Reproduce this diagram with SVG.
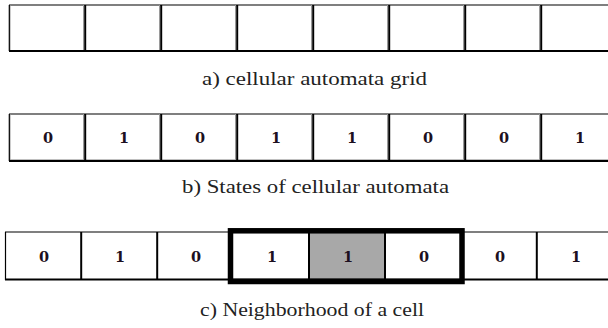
<svg xmlns="http://www.w3.org/2000/svg" width="608" height="328" viewBox="0 0 608 328">
  <style>
    .cell { fill: #ffffff; stroke: none; }
    .hot { fill: #a8a8a8; }
    .edge { stroke: #000000; stroke-width: 1.2; }
    .base { stroke: #000000; stroke-width: 2.2; }
    .div { stroke: #000000; stroke-width: 2; }
    .shade { stroke: #9a9a9a; stroke-width: 1; }
    .num { fill: #1c1020; text-anchor: middle; }
    .cap { fill: #222222; }
    .frame { fill: none; stroke: #000000; stroke-width: 5.5; }
  </style>

  <!-- Row a: empty cellular automata grid -->
  <g id="row-a">
    <g id="a-cell-0"><rect class="cell" x="9" y="5" width="76" height="46"/></g>
    <g id="a-cell-1"><rect class="cell" x="85" y="5" width="76" height="46"/></g>
    <g id="a-cell-2"><rect class="cell" x="161" y="5" width="76" height="46"/></g>
    <g id="a-cell-3"><rect class="cell" x="237" y="5" width="76" height="46"/></g>
    <g id="a-cell-4"><rect class="cell" x="313" y="5" width="76" height="46"/></g>
    <g id="a-cell-5"><rect class="cell" x="389" y="5" width="76" height="46"/></g>
    <g id="a-cell-6"><rect class="cell" x="465" y="5" width="76" height="46"/></g>
    <g id="a-cell-7"><rect class="cell" x="541" y="5" width="76" height="46"/></g>
    <g id="a-lines">
      <line class="edge" x1="9" y1="5" x2="608" y2="5"/>
      <line class="base" x1="9" y1="51" x2="608" y2="51"/>
      <line class="shade" x1="10" y1="5" x2="10" y2="50"/>
      <line class="edge" x1="9.3" y1="5" x2="9.3" y2="51"/>
      <line class="shade" x1="83.5" y1="5" x2="83.5" y2="50"/>
      <line class="div" x1="85.2" y1="5" x2="85.2" y2="51"/>
      <line class="shade" x1="159.5" y1="5" x2="159.5" y2="50"/>
      <line class="div" x1="161.2" y1="5" x2="161.2" y2="51"/>
      <line class="shade" x1="235.5" y1="5" x2="235.5" y2="50"/>
      <line class="div" x1="237.2" y1="5" x2="237.2" y2="51"/>
      <line class="shade" x1="311.5" y1="5" x2="311.5" y2="50"/>
      <line class="div" x1="313.2" y1="5" x2="313.2" y2="51"/>
      <line class="shade" x1="387.5" y1="5" x2="387.5" y2="50"/>
      <line class="div" x1="389.2" y1="5" x2="389.2" y2="51"/>
      <line class="shade" x1="463.5" y1="5" x2="463.5" y2="50"/>
      <line class="div" x1="465.2" y1="5" x2="465.2" y2="51"/>
      <line class="shade" x1="539.5" y1="5" x2="539.5" y2="50"/>
      <line class="div" x1="541.2" y1="5" x2="541.2" y2="51"/>
    </g>
  </g>

  <!-- Row b: states of the cellular automata -->
  <g id="row-b" font-family="DejaVu Serif" font-weight="bold" font-size="14.5">
    <g id="b-cell-0"><rect class="cell" x="9" y="114" width="76" height="47"/><text class="num" x="48" y="143">0</text></g>
    <g id="b-cell-1"><rect class="cell" x="85" y="114" width="76" height="47"/><text class="num" x="124" y="143">1</text></g>
    <g id="b-cell-2"><rect class="cell" x="161" y="114" width="76" height="47"/><text class="num" x="200" y="143">0</text></g>
    <g id="b-cell-3"><rect class="cell" x="237" y="114" width="76" height="47"/><text class="num" x="276" y="143">1</text></g>
    <g id="b-cell-4"><rect class="cell" x="313" y="114" width="76" height="47"/><text class="num" x="352" y="143">1</text></g>
    <g id="b-cell-5"><rect class="cell" x="389" y="114" width="76" height="47"/><text class="num" x="428" y="143">0</text></g>
    <g id="b-cell-6"><rect class="cell" x="465" y="114" width="76" height="47"/><text class="num" x="504" y="143">0</text></g>
    <g id="b-cell-7"><rect class="cell" x="541" y="114" width="76" height="47"/><text class="num" x="580" y="143">1</text></g>
    <g id="b-lines">
      <line class="edge" x1="9" y1="114" x2="608" y2="114"/>
      <line class="base" x1="9" y1="160.8" x2="608" y2="160.8"/>
      <line class="shade" x1="10" y1="114" x2="10" y2="160"/>
      <line class="edge" x1="9.3" y1="114" x2="9.3" y2="161"/>
      <line class="shade" x1="83.5" y1="114" x2="83.5" y2="160"/>
      <line class="div" x1="85.2" y1="114" x2="85.2" y2="161"/>
      <line class="shade" x1="159.5" y1="114" x2="159.5" y2="160"/>
      <line class="div" x1="161.2" y1="114" x2="161.2" y2="161"/>
      <line class="shade" x1="235.5" y1="114" x2="235.5" y2="160"/>
      <line class="div" x1="237.2" y1="114" x2="237.2" y2="161"/>
      <line class="shade" x1="311.5" y1="114" x2="311.5" y2="160"/>
      <line class="div" x1="313.2" y1="114" x2="313.2" y2="161"/>
      <line class="shade" x1="387.5" y1="114" x2="387.5" y2="160"/>
      <line class="div" x1="389.2" y1="114" x2="389.2" y2="161"/>
      <line class="shade" x1="463.5" y1="114" x2="463.5" y2="160"/>
      <line class="div" x1="465.2" y1="114" x2="465.2" y2="161"/>
      <line class="shade" x1="539.5" y1="114" x2="539.5" y2="160"/>
      <line class="div" x1="541.2" y1="114" x2="541.2" y2="161"/>
    </g>
  </g>

  <!-- Row c: neighbourhood of the highlighted cell -->
  <g id="row-c" font-family="DejaVu Serif" font-weight="bold" font-size="14.5">
    <g id="c-cell-0"><rect class="cell" x="5" y="232" width="76" height="48"/><text class="num" x="44" y="261.5">0</text></g>
    <g id="c-cell-1"><rect class="cell" x="81" y="232" width="76" height="48"/><text class="num" x="120" y="261.5">1</text></g>
    <g id="c-cell-2"><rect class="cell" x="157" y="232" width="76" height="48"/><text class="num" x="196" y="261.5">0</text></g>
    <g id="c-cell-3"><rect class="cell" x="233" y="232" width="76" height="48"/><text class="num" x="272" y="261.5">1</text></g>
    <g id="c-cell-4"><rect class="cell hot" x="309" y="232" width="76" height="48"/><text class="num" x="348" y="261.5">1</text></g>
    <g id="c-cell-5"><rect class="cell" x="385" y="232" width="76" height="48"/><text class="num" x="424" y="261.5">0</text></g>
    <g id="c-cell-6"><rect class="cell" x="461" y="232" width="76" height="48"/><text class="num" x="500" y="261.5">0</text></g>
    <g id="c-cell-7"><rect class="cell" x="537" y="232" width="76" height="48"/><text class="num" x="576" y="261.5">1</text></g>
    <g id="c-lines">
      <line class="edge" x1="5" y1="232" x2="608" y2="232"/>
      <line class="div" x1="5" y1="279.5" x2="608" y2="279.5"/>
      <line class="edge" x1="5.5" y1="232" x2="5.5" y2="280"/>
      <line class="div" x1="81.2" y1="232" x2="81.2" y2="280"/>
      <line class="div" x1="157.2" y1="232" x2="157.2" y2="280"/>
      <line class="div" x1="309" y1="232" x2="309" y2="280"/>
      <line class="div" x1="385" y1="232" x2="385" y2="280"/>
      <line class="div" x1="536.8" y1="232" x2="536.8" y2="280"/>
    </g>
    <!-- heavy frame around the three-cell neighbourhood -->
    <rect id="neighbourhood" class="frame" x="230.5" y="230.8" width="231.5" height="50.7"/>
  </g>

  <!-- Captions -->
  <g id="captions" font-family="Liberation Serif, serif" font-size="18">
    <text id="caption-a" class="cap" x="202" y="85" textLength="225" lengthAdjust="spacingAndGlyphs">a)  cellular automata grid</text>
    <text id="caption-b" class="cap" x="182" y="193" textLength="267" lengthAdjust="spacingAndGlyphs">b)  States of cellular automata</text>
    <text id="caption-c" class="cap" x="200" y="316" textLength="224" lengthAdjust="spacingAndGlyphs">c)  Neighborhood of a cell</text>
  </g>
</svg>
